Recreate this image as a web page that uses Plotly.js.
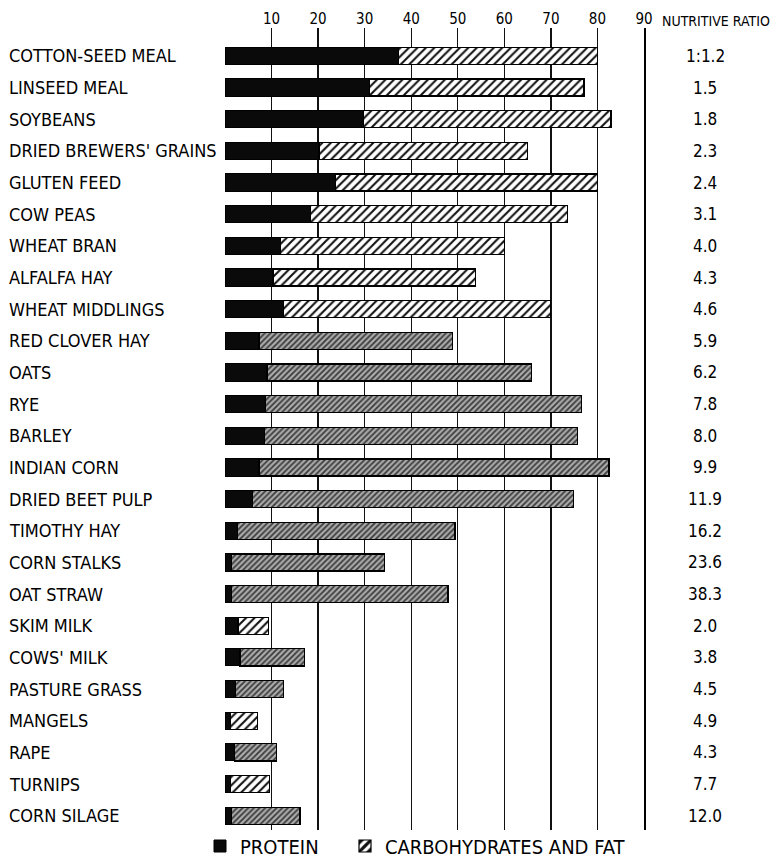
<!DOCTYPE html>
<html>
<head>
<meta charset="utf-8">
<script src="https://cdn.plot.ly/plotly-3.0.1.min.js"></script>
<style>html,body{margin:0;padding:0;background:#fff;}#chart{width:784px;height:859px;}</style>
</head>
<body>
<div id="chart"></div>
<script>
const feeds = ["COTTON-SEED MEAL","LINSEED MEAL","SOYBEANS","DRIED BREWERS' GRAINS","GLUTEN FEED","COW PEAS","WHEAT BRAN","ALFALFA HAY","WHEAT MIDDLINGS","RED CLOVER HAY","OATS","RYE","BARLEY","INDIAN CORN","DRIED BEET PULP","TIMOTHY HAY","CORN STALKS","OAT STRAW","SKIM MILK","COWS' MILK","PASTURE GRASS","MANGELS","RAPE","TURNIPS","CORN SILAGE"];
const protein = [37.2,31.0,29.8,20.2,23.8,18.3,12.0,10.3,12.5,7.3,9.0,8.7,8.5,7.3,5.9,2.6,1.4,1.4,2.8,3.2,2.2,1.1,2.0,1.1,1.4];
const carbFat = [42.8,46.1,53.1,44.8,56.2,55.3,48.1,43.5,57.4,41.6,56.8,67.9,67.2,75.2,68.9,46.8,32.9,46.5,6.5,13.9,10.4,5.8,9.1,8.4,14.7];
const ratios = ["1:1.2","1.5","1.8","2.3","2.4","3.1","4.0","4.3","4.6","5.9","6.2","7.8","8.0","9.9","11.9","16.2","23.6","38.3","2.0","3.8","4.5","4.9","4.3","7.7","12.0"];
const tickVals = [10,20,30,40,50,60,70,80,90];

// style: which rows print as the greyer, denser hatch
const greyRows = [0,0,0,0,0,0,0,0,0,1,1,1,1,1,1,1,1,1,0,1,1,0,1,0,1];

const W = 784, H = 859;
const mL = 225, mR = 140, mT = 28, mB = 29;
const plotW = W - mL - mR, plotH = H - mT - mB;
const font = "'DejaVu Sans Condensed', 'Liberation Sans Narrow', 'DejaVu Sans', sans-serif";

const traces = [
  {
    type: 'bar', orientation: 'h', name: 'PROTEIN', legend: 'legend',
    y: feeds, x: protein, width: 0.54,
    marker: {color: '#0a0a0a', line: {color: '#000', width: 1}}
  },
  {
    type: 'bar', orientation: 'h', name: 'CARBOHYDRATES AND FAT', legend: 'legend2',
    y: feeds, x: carbFat, width: 0.54,
    marker: {
      color: '#fff',
      line: {color: '#000', width: 1.2},
      pattern: {
        shape: '/',
        fgcolor: greyRows.map(g => g ? '#3a3a3a' : '#111'),
        bgcolor: greyRows.map(g => g ? '#ababab' : '#ffffff'),
        size: greyRows.map(g => g ? 4 : 6),
        solidity: greyRows.map(g => g ? 0.45 : 0.35)
      }
    }
  }
];

const annotations = [];
feeds.forEach((f, i) => {
  annotations.push({
    xref: 'paper', yref: 'y', x: -(mL - 7) / plotW, y: f,
    xanchor: 'left', yanchor: 'middle', showarrow: false,
    text: f, font: {family: font, size: 18, color: '#000'}
  });
  annotations.push({
    xref: 'paper', yref: 'y', x: (705 - mL) / plotW, y: f,
    xanchor: 'center', yanchor: 'middle', showarrow: false,
    text: ratios[i], font: {family: font, size: 17, color: '#000'}
  });
});
annotations.push({
  xref: 'paper', yref: 'paper', x: (660 - mL) / plotW, y: 1 + 7 / plotH,
  xanchor: 'left', yanchor: 'middle', showarrow: false,
  text: 'NUTRITIVE RATIO', font: {family: font, size: 14, color: '#000'}
});

const legendBase = {
  orientation: 'h', xanchor: 'left',
  y: -(16 / plotH), yanchor: 'middle',
  font: {family: font, size: 20, color: '#000'},
  itemwidth: 30, bgcolor: 'rgba(0,0,0,0)'
};

const layout = {
  width: W, height: H,
  margin: {l: mL, r: mR, t: mT, b: mB, pad: 0, autoexpand: false},
  paper_bgcolor: '#fff', plot_bgcolor: '#fff',
  barmode: 'stack',
  showlegend: true,
  legend: Object.assign({}, legendBase, {x: (200 - mL) / plotW}),
  legend2: Object.assign({}, legendBase, {x: (345 - mL) / plotW}),
  xaxis: {
    side: 'top', range: [0, 90], autorange: false,
    tickvals: tickVals, ticktext: tickVals.map(String),
    showgrid: true, gridcolor: '#111', gridwidth: 1.3,
    zeroline: false, showline: false, ticks: '',
    tickfont: {family: font, size: 15, color: '#000'}
  },
  yaxis: {
    type: 'category', categoryorder: 'array', categoryarray: feeds,
    range: [24.45, -0.88], autorange: false,
    side: 'right', showline: true, linecolor: '#000', linewidth: 2,
    showgrid: false, zeroline: false, showticklabels: false, ticks: ''
  },
  annotations: annotations
};

Plotly.newPlot('chart', traces, layout, {staticPlot: true, displayModeBar: false});
</script>
</body>
</html>
